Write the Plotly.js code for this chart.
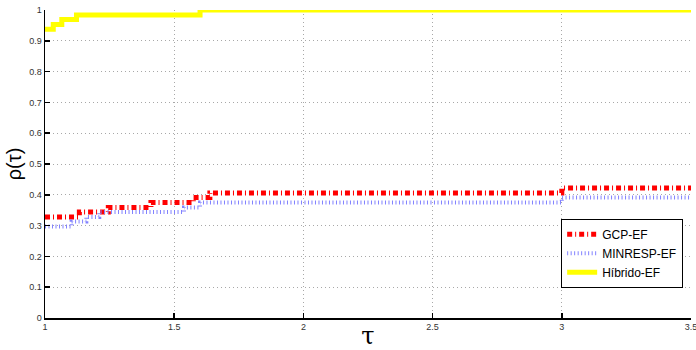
<!DOCTYPE html>
<html><head><meta charset="utf-8">
<script src="https://cdn.plot.ly/plotly-3.0.1.min.js"></script>
<style>html,body{margin:0;padding:0;background:#fff}#c{width:696px;height:350px}</style>
</head><body><div id="c"></div>
<script>
// Performance profile data (step functions, n = 64 problems)
const gcpX = [1, 1.133, 1.245, 1.41, 1.574, 1.638, 3.0, 3.5];
const gcpY = [0.328, 0.344, 0.359, 0.375, 0.391, 0.406, 0.422, 0.422];
const minX = [1, 1.103, 1.16, 1.21, 1.538, 1.60, 3.0, 3.5];
const minY = [0.297, 0.313, 0.328, 0.344, 0.359, 0.375, 0.391, 0.391];
const hibX = [1, 1.032, 1.065, 1.122, 1.6, 3.5];
const hibY = [0.9375, 0.953, 0.969, 0.984, 1.0, 1.0];
const names = ['GCP-EF', 'MINRESP-EF', 'Híbrido-EF'];
const xTicks = [1, 1.5, 2, 2.5, 3, 3.5];
const xTickText = ['1', '1.5', '2', '2.5', '3', '3.5'];
const yTicks = [0, 0.1, 0.2, 0.3, 0.4, 0.5, 0.6, 0.7, 0.8, 0.9, 1];
const yTickText = ['0', '0.1', '0.2', '0.3', '0.4', '0.5', '0.6', '0.7', '0.8', '0.9', '1'];

const traces = [
  {x: gcpX, y: gcpY, name: names[0], mode: 'lines', line: {shape: 'hv', color: '#ff0000', width: 5, dash: '5px,3px,1px,3px'}},
  {x: minX, y: minY, name: names[1], mode: 'lines', line: {shape: 'hv', color: 'rgb(130,130,255)', width: 4, dash: '1px,2.5px'}},
  {x: hibX, y: hibY, name: names[2], mode: 'lines', line: {shape: 'hv', color: '#ffff00', width: 5}}
];
const gridStyle = {showgrid: true, gridcolor: '#a8a8a8', griddash: '1px,3px', gridwidth: 1};
const layout = {
  width: 696, height: 350,
  margin: {l: 45, r: 5, t: 10, b: 32},
  paper_bgcolor: '#fff', plot_bgcolor: '#fff',
  font: {family: 'Liberation Sans, Arial, sans-serif', color: '#333'},
  xaxis: Object.assign({
    range: [1, 3.5], tickvals: xTicks, ticktext: xTickText,
    ticks: 'inside', ticklen: 5, tickcolor: '#000', tickwidth: 1.5,
    showline: true, linecolor: '#000', linewidth: 1.5, zeroline: false,
    tickfont: {size: 9, color: '#333'}, ticklabeloverflow: 'allow',
    title: {text: 'τ', font: {size: 24, color: '#000', family: 'DejaVu Serif, serif'}, standoff: 6}
  }, gridStyle),
  yaxis: Object.assign({
    range: [0, 1], tickvals: yTicks, ticktext: yTickText,
    ticks: 'inside', ticklen: 5, tickcolor: '#000', tickwidth: 1.5,
    showline: true, linecolor: '#000', linewidth: 1.5, zeroline: false,
    tickfont: {size: 9, color: '#333'},
    title: {text: 'ρ(τ)', font: {size: 20, color: '#000', family: 'Liberation Sans, Arial, sans-serif'}, standoff: 2}
  }, gridStyle),
  showlegend: true,
  legend: {x: 0.799, y: 0.322, xanchor: 'left', yanchor: 'top',
    bgcolor: '#fff', bordercolor: '#000', borderwidth: 1,
    font: {size: 12, color: '#000'}, itemwidth: 30, tracegroupgap: 0}
};
Plotly.newPlot('c', traces, layout, {displayModeBar: false, staticPlot: true});
</script></body></html>
